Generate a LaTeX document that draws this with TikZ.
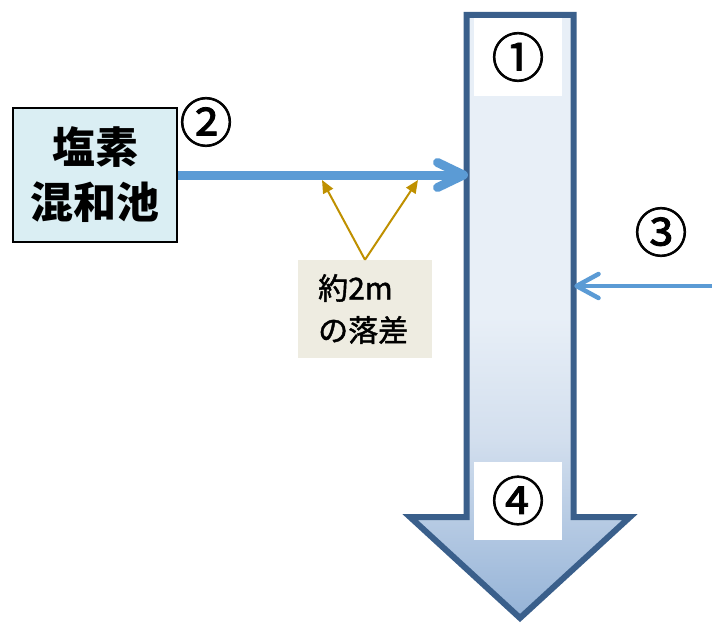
\documentclass[tikz,border=0pt]{standalone}
\usepackage{fontspec}
\setmainfont{Noto Sans CJK JP}
\newfontfamily\jpmed{Noto Sans CJK JP}[FakeBold=1.5]
\usetikzlibrary{arrows.meta}
\definecolor{shaftblue}{HTML}{3A5F8B}
\definecolor{topfill}{HTML}{E8EFF7}
\definecolor{botfill}{HTML}{95B3D7}
\definecolor{midfill}{HTML}{D3DFEE}
\definecolor{flowblue}{HTML}{5B9BD5}
\definecolor{poolfill}{HTML}{DAEEF3}
\definecolor{gold}{HTML}{BF9000}
\definecolor{notefill}{HTML}{EEECE1}
\pgfdeclareverticalshading{tankshade}{100bp}{color(0bp)=(botfill); color(25bp)=(botfill); color(40bp)=(midfill); color(50bp)=(topfill); color(100bp)=(topfill)}
\tikzset{
  numlabel/.style={font=\jpmed\fontsize{53}{53}\selectfont, inner sep=0pt},
  whitebox/.style={fill=white, draw=none, minimum width=88pt, minimum height=78pt, inner sep=0pt},
  flow/.style={flowblue, line cap=round, line join=round},
  goldarrow/.style={gold, line width=2pt, -{Triangle[length=13pt,width=11pt]}},
}
\begin{document}
\begin{tikzpicture}[x=1pt,y=-1pt]
\useasboundingbox (0,0) rectangle (712,623);
% big down arrow
\path[shading=tankshade, draw=shaftblue, line width=6pt, line join=miter, miter limit=10]
  (466.5,15) -- (573.5,15) -- (573.5,517) -- (630,517) -- (520,618) -- (410,517) -- (466.5,517) -- cycle;
\node[whitebox] (b1) at (518,57) {};
\node[whitebox] (b4) at (518,500.5) {};
\node[numlabel] (n1) at (b1) {①};
\node[numlabel] (n4) at (b4) {④};
\coordinate (inL) at (463.5,175);
\coordinate (inR) at (576.5,286);
\coordinate (src3) at (712,286);
% pool
\node[draw=black, line width=2.5pt, fill=poolfill, minimum width=164pt, minimum height=134pt, inner sep=0pt,
      align=center, font=\fontsize{43}{55}\selectfont\bfseries] (pool) at (95,175) {塩素\\混和池};
\node[numlabel] (n2) at (206,122) {②};
\node[numlabel] (n3) at (661,232) {③};
% main flow
\draw[flow, line width=9pt, line cap=butt] (pool.east) -- (inL);
\draw[flow, line width=9pt] ([xshift=-26pt,yshift=-12.5pt]inL) -- (inL) -- ([xshift=-26pt,yshift=12.5pt]inL);
% flow 3
\draw[flow, line width=4pt, line cap=butt] (src3) -- (inR);
\draw[flow, line width=4.5pt] ([xshift=22pt,yshift=-12pt]inR) -- (inR) -- ([xshift=22pt,yshift=12pt]inR);
% note
\node[fill=notefill, minimum width=134pt, minimum height=98pt, inner sep=0pt] (note) at (365,309) {};
\node[anchor=west, align=left, font=\jpmed\fontsize{30}{42}\selectfont, inner sep=0pt] (notetext) at (318,309) {約2m\\の落差};
\coordinate (t1) at (322,180);
\coordinate (t2) at (418,180);
\draw[goldarrow] (note.north) -- (t1);
\draw[goldarrow] (note.north) -- (t2);
\end{tikzpicture}
\end{document}
